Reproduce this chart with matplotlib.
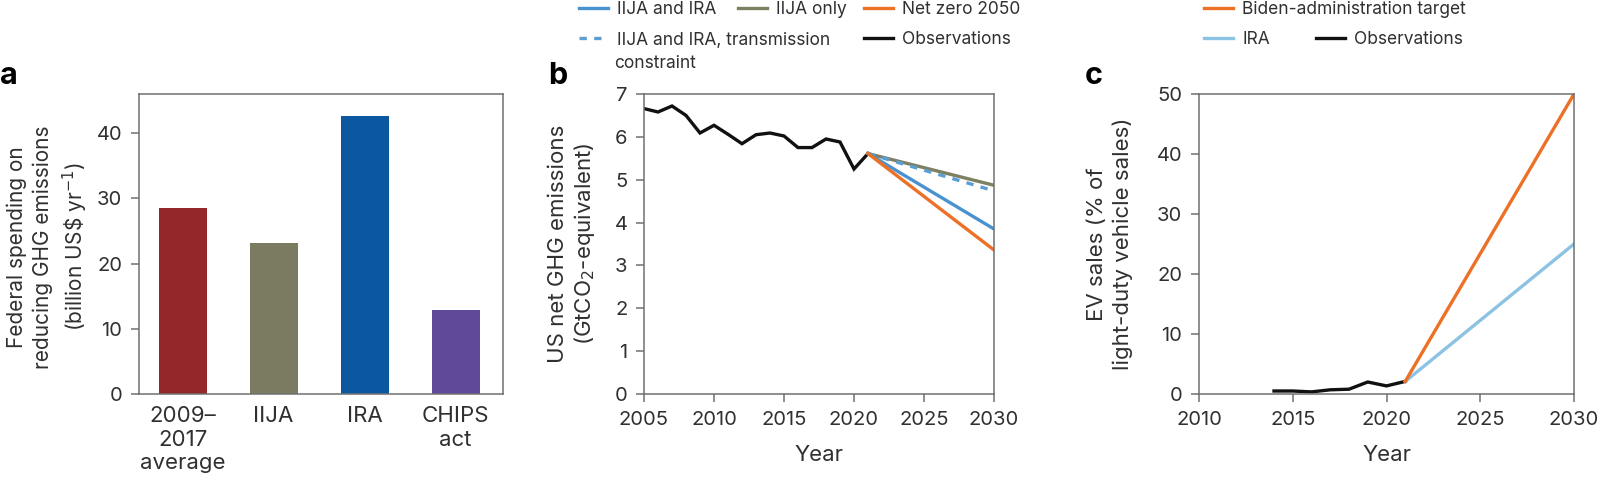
import matplotlib
matplotlib.use("Agg")
import matplotlib.pyplot as plt
from matplotlib.lines import Line2D

plt.rcParams['font.family'] = ['Inter', 'DejaVu Sans']

# ---------------- data ----------------
# panel a
spend_categories = ["2009–\n2017\naverage", "IIJA", "IRA", "CHIPS\nact"]
spend_values = [28.5, 23.1, 42.7, 12.9]
spend_colors = ["#93272A", "#7B7B61", "#0B58A0", "#5E4A98"]

# panel b
obs_years_b = [2005, 2006, 2007, 2008, 2009, 2010, 2011, 2012, 2013, 2014,
               2015, 2016, 2017, 2018, 2019, 2020, 2021]
obs_emis = [6.66, 6.58, 6.72, 6.50, 6.09, 6.27, 6.06, 5.84, 6.05, 6.09,
            6.02, 5.75, 5.75, 5.95, 5.88, 5.25, 5.61]
proj_years_b = [2021, 2030]
ija_ira = [5.61, 3.85]
ija_ira_trans = [5.61, 4.74]
ija_only = [5.61, 4.87]
net_zero = [5.61, 3.36]

# panel c
obs_years_c = [2014, 2015, 2016, 2017, 2018, 2019, 2020, 2021]
obs_ev = [0.5, 0.5, 0.35, 0.7, 0.8, 2.0, 1.35, 2.1]
proj_years_c = [2021, 2030]
biden_target = [2.1, 50.0]
ira_ev = [2.1, 25.0]

# ---------------- styling ----------------
BLUE = "#4A92CF"
BLUE_D = "#5B9ED3"
OLIVE = "#7E8062"
ORANGE = "#EC7126"
LBLUE = "#8CC2E2"
SPINE = "#707070"
TXT = "#303030"
LW = 2.4
TICK_FS = 14.5
CAT_FS = 16
YLAB_FS = 16
XLAB_FS = 16
LEG_FS = 12.5

fig = plt.figure(figsize=(16, 4.87), dpi=100)

def style(ax):
    for s in ax.spines.values():
        s.set_color(SPINE)
        s.set_linewidth(1.1)
    ax.tick_params(direction='out', length=6, width=1.1, color=SPINE,
                   labelsize=TICK_FS, labelcolor=TXT, pad=6)

bottom = 1 - 394 / 487
height = 300 / 487

# ---------------- panel a ----------------
axa = fig.add_axes([139 / 1600, bottom, 364 / 1600, height])
style(axa)
xs = list(range(len(spend_categories)))
axa.bar(xs, spend_values, width=0.53, color=spend_colors)
axa.set_xlim(-0.48, 3.52)
axa.set_ylim(0, 46)
axa.set_yticks([0, 10, 20, 30, 40])
axa.set_xticks(xs)
axa.set_xticklabels(spend_categories, fontsize=CAT_FS, linespacing=1.2)
axa.tick_params(axis='x', length=0, pad=9)
axa.set_ylabel("Federal spending on\nreducing GHG emissions\n(billion US\\$ yr$^{-1}$)",
               fontsize=15, color=TXT, ha='center', va='center', linespacing=1.35)
axa.yaxis.set_label_coords(-0.25, 0.49)
fig.text(0.0, 1 - 76 / 487, "a", fontsize=22, fontweight='bold', va='center', ha='left')

# ---------------- panel b ----------------
axb = fig.add_axes([644 / 1600, bottom, 350 / 1600, height])
style(axb)
axb.plot(obs_years_b, obs_emis, color='#111111', lw=LW, solid_joinstyle='miter')
axb.plot(proj_years_b, ija_only, color=OLIVE, lw=LW)
axb.plot(proj_years_b, ija_ira_trans, color=BLUE_D, lw=LW, ls=(0, (2.2, 2.2)))
axb.plot(proj_years_b, ija_ira, color=BLUE, lw=LW)
axb.plot(proj_years_b, net_zero, color=ORANGE, lw=LW)
axb.set_xlim(2005, 2030)
axb.set_ylim(0, 7)
axb.set_xticks([2005, 2010, 2015, 2020, 2025, 2030])
axb.set_yticks(range(0, 8))
axb.set_xlabel("Year", fontsize=XLAB_FS, color=TXT, va='center')
axb.xaxis.set_label_coords(0.5, -0.203)
axb.set_ylabel("US net GHG emissions\n(GtCO$_2$-equivalent)", fontsize=YLAB_FS,
               color=TXT, ha='center', va='center', linespacing=1.2)
axb.yaxis.set_label_coords(-0.204, 0.5)
fig.text(548 / 1600, 1 - 76 / 487, "b", fontsize=22, fontweight='bold', va='center', ha='left')

def leg_entry(x_px, y_px, handle, label):
    lg = fig.legend(handles=[handle], labels=[label], loc='center left',
                    bbox_to_anchor=(x_px / 1600, 1 - y_px / 487),
                    frameon=False, fontsize=LEG_FS, handlelength=1.65,
                    handletextpad=0.55, borderpad=0, borderaxespad=0,
                    labelcolor=TXT)
    return lg

leg_entry(579, 10, Line2D([], [], color=BLUE, lw=LW), "IIJA and IRA")
leg_entry(579, 40, Line2D([], [], color=BLUE_D, lw=LW, ls=(0, (2.2, 2.2))),
          "IIJA and IRA, transmission")
fig.text(614 / 1600, 1 - 63 / 487, "constraint", fontsize=LEG_FS, color=TXT,
         va='center', ha='left')
leg_entry(738, 10, Line2D([], [], color=OLIVE, lw=LW), "IIJA only")
leg_entry(864, 10, Line2D([], [], color=ORANGE, lw=LW), "Net zero 2050")
leg_entry(864, 40, Line2D([], [], color='#111111', lw=LW), "Observations")

# ---------------- panel c ----------------
axc = fig.add_axes([1199 / 1600, bottom, 375 / 1600, height])
style(axc)
axc.plot(obs_years_c, obs_ev, color='#111111', lw=LW)
axc.plot(proj_years_c, ira_ev, color=LBLUE, lw=LW)
axc.plot(proj_years_c, biden_target, color=ORANGE, lw=LW)
axc.set_xlim(2010, 2030)
axc.set_ylim(0, 50)
axc.set_xticks([2010, 2015, 2020, 2025, 2030])
axc.set_yticks([0, 10, 20, 30, 40, 50])
axc.set_xlabel("Year", fontsize=XLAB_FS, color=TXT, va='center')
axc.xaxis.set_label_coords(0.5, -0.203)
axc.set_ylabel("EV sales (% of\nlight-duty vehicle sales)", fontsize=YLAB_FS,
               color=TXT, ha='center', va='center', linespacing=1.3)
axc.yaxis.set_label_coords(-0.237, 0.5)
fig.text(1085 / 1600, 1 - 76 / 487, "c", fontsize=22, fontweight='bold', va='center', ha='left')

leg_entry(1204, 10, Line2D([], [], color=ORANGE, lw=LW), "Biden-administration target")
leg_entry(1204, 40, Line2D([], [], color=LBLUE, lw=LW), "IRA")
leg_entry(1316, 40, Line2D([], [], color='#111111', lw=LW), "Observations")

fig.savefig("out.png", dpi=100, facecolor='white')
